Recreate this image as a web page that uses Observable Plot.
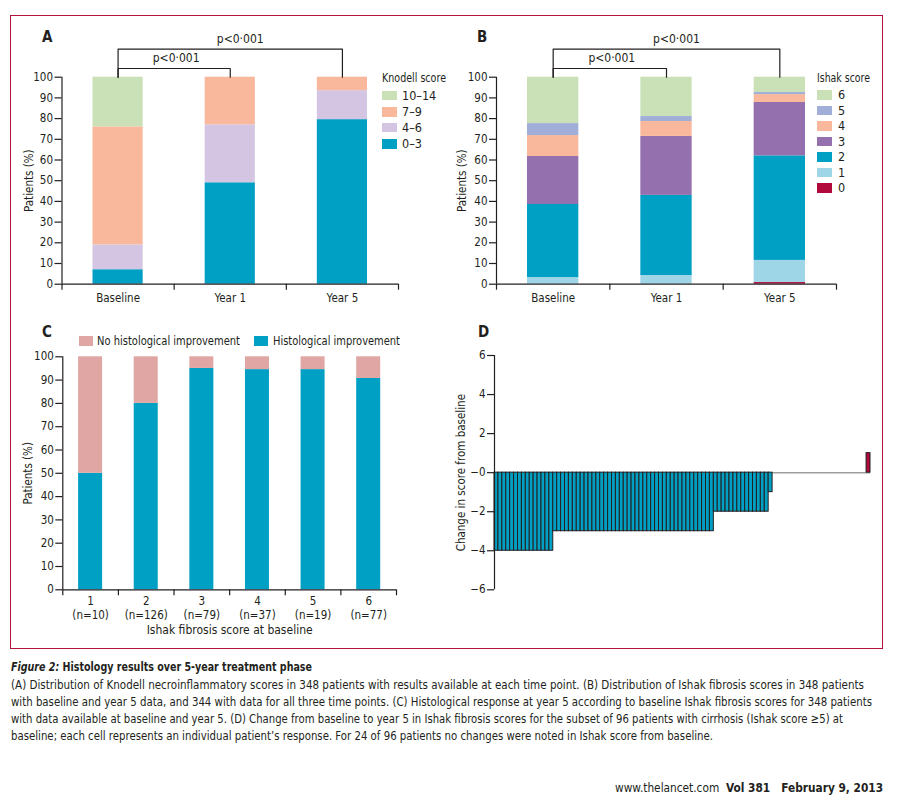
<!DOCTYPE html>
<html><head><meta charset="utf-8">
<script src="https://cdn.jsdelivr.net/npm/d3@7"></script>
<script src="https://cdn.jsdelivr.net/npm/@observablehq/plot@0.6"></script>
<style>
body{margin:0;background:#fff;}
#page{position:relative;width:897px;height:795px;overflow:hidden;font-family:"Liberation Sans Narrow","DejaVu Sans Condensed",sans-serif;color:#231f20;}
.abs{position:absolute;white-space:nowrap;line-height:1;}
#frame{position:absolute;left:10px;top:14.5px;width:872.5px;height:634.5px;border:1.5px solid #b5123e;box-sizing:border-box;}
.panel{position:absolute;}
.panel svg{overflow:visible;}
.sw{position:absolute;}
</style></head><body><div id="page"><div id="frame"></div></div>
<script>
// ---------- DATA ----------
const timepoints = ["Baseline", "Year 1", "Year 5"];
// Panel A: Knodell necroinflammatory score distribution (%), stacked bottom -> top
const knodellScores = ["0–3", "4–6", "7–9", "10–14"];
const knodellBaseline = [7, 12, 57, 24];
const knodellYear1 = [49, 28, 23, 0];
const knodellYear5 = [79.5, 14, 6.5, 0];
// Panel B: Ishak fibrosis score distribution (%), stacked bottom -> top
const ishakScores = ["0", "1", "2", "3", "4", "5", "6"];
const ishakBaseline = [0, 3.2, 35.3, 23.2, 10.1, 5.8, 22.4];
const ishakYear1 = [0, 4.2, 38.7, 28.5, 7.2, 2.4, 19.0];
const ishakYear5 = [0.8, 10.7, 50.5, 25.8, 3.8, 1.0, 7.4];
// comparisons shown with brackets
const comparisons = [["Baseline", "Year 1"], ["Baseline", "Year 5"]];
const pLabels = ["p<0·001", "p<0·001"];
// Panel C: histological response by baseline Ishak score
const responseGroups = ["No histological improvement", "Histological improvement"];
const baselineIshak = ["1", "2", "3", "4", "5", "6"];
const groupN = [10, 126, 79, 37, 19, 77];
const improvementPct = [50, 80, 95, 94.5, 94.5, 90.7];
const noImprovementPct = [50, 20, 5, 5.5, 5.5, 9.3];
// Panel D: change in Ishak score, baseline -> year 5, 96 cirrhotic patients
const scoreChanges = [
  -4,-4,-4,-4,-4,-4,-4,-4,-4,-4,-4,-4,-4,-4,-4,
  -3,-3,-3,-3,-3,-3,-3,-3,-3,-3,-3,-3,-3,-3,-3,-3,-3,-3,-3,-3,-3,
  -3,-3,-3,-3,-3,-3,-3,-3,-3,-3,-3,-3,-3,-3,-3,-3,-3,-3,-3,-3,
  -2,-2,-2,-2,-2,-2,-2,-2,-2,-2,-2,-2,-2,-2,
  -1,
  0,0,0,0,0,0,0,0,0,0,0,0,0,0,0,0,0,0,0,0,0,0,0,0,
  1
];
const dTicks = [-6, -4, -2, 0, 2, 4, 6];
const dTickLabels = ["−6", "−4", "−2", "−0", "2", "4", "6"];
const pctTicks = [0, 10, 20, 30, 40, 50, 60, 70, 80, 90, 100];

// ---------- STYLE ----------
const FONT = '"Liberation Sans Narrow","DejaVu Sans Condensed",sans-serif';
const INK = "#231f20";
const TEAL = "#009fc4", LAVENDER = "#d4c6e2", SALMON = "#f9b89c", GREEN = "#cae1b7",
      PERI = "#a1afd8", PURPLE = "#9570ae", LIGHTBLUE = "#9fd6e7", CRIMSON = "#b2093c", PINK = "#e0a6a3";
const knodellColors = [TEAL, LAVENDER, SALMON, GREEN];
const ishakColors = [CRIMSON, LIGHTBLUE, TEAL, PURPLE, SALMON, PERI, GREEN];

const page = document.getElementById("page");
function mount(el, left, top) {
  const d = document.createElement("div"); d.className = "panel";
  d.style.left = left + "px"; d.style.top = top + "px";
  d.appendChild(el); page.appendChild(d);
}
function label(str, x, y, opts = {}) {
  const d = document.createElement("div"); d.className = "abs";
  d.textContent = str; d.style.left = x + "px"; d.style.top = y + "px";
  d.style.transform = "translateY(-50%)";
  Object.assign(d.style, opts); page.appendChild(d); return d;
}
function fitLine(el, target) {
  const w = el.getBoundingClientRect().width;
  el.style.transformOrigin = "0 50%";
  el.style.transform = `translateY(-50%) scaleX(${target / w})`;
  return el;
}
function swatch(x, y, w, h, color) {
  const d = document.createElement("div"); d.className = "sw";
  Object.assign(d.style, {left: x + "px", top: y + "px", width: w + "px", height: h + "px", background: color});
  page.appendChild(d);
}
const baseStyle = {fontFamily: FONT, fontSize: "11.5px", color: INK, background: "transparent", overflow: "visible"};

function stackedPanel({series, scores, colors, width, height, margins, inset, ylabelDx}) {
  const [mt, mr, mb, ml] = margins;
  const data = [];
  timepoints.forEach((c, i) => scores.forEach((s, j) => data.push({cat: c, idx: i, idx2: i + 1, score: s, value: series[i][j]})));
  const levels = [104.2, 113.6];
  const marks = [
    Plot.rectY(data, Plot.stackY({x1: "idx", x2: "idx2", y: "value", fill: "score", insetLeft: inset, insetRight: inset})),
    Plot.ruleY([0], {stroke: INK, strokeWidth: 1.2}),
    Plot.ruleX([0], {y1: 0, y2: 100, stroke: INK, strokeWidth: 1.2}),
    Plot.axisY({ticks: pctTicks, tickSize: 7, tickPadding: 2, label: null, stroke: INK, strokeWidth: 1.2}),
    Plot.axisX({ticks: [0, 1, 2, 3], tickSize: 6, tickFormat: () => "", label: null, stroke: INK, strokeWidth: 1.2}),
    Plot.axisX({ticks: [0.5, 1.5, 2.5], tickSize: 0, tickPadding: 10, tickFormat: d => timepoints[d - 0.5], label: null}),
    Plot.text(["Patients (%)"], {frameAnchor: "left", textAnchor: "middle", rotate: -90, dx: ylabelDx, text: d => d})
  ];
  comparisons.forEach(([a, b], k) => {
    const i1 = timepoints.indexOf(a) + 0.5, i2 = timepoints.indexOf(b) + 0.5, L = levels[k];
    const pts = [{x: i1, y: 100}, {x: i1, y: L}, {x: i2, y: L}, {x: i2, y: 100}];
    marks.push(Plot.line(pts, {x: "x", y: "y", stroke: INK, strokeWidth: 1.2}));
    marks.push(Plot.text([pLabels[k]], {x: (i1 + i2) / 2, y: L + 5, text: d => d, fontSize: 12, dx: k === 0 ? 2 : 10}));
  });
  return Plot.plot({
    width, height, marginTop: mt, marginRight: mr, marginBottom: mb, marginLeft: ml,
    x: {type: "linear", domain: [0, 3]},
    y: {domain: [0, 100]},
    color: {domain: scores, range: colors},
    style: baseStyle,
    marks
  });
}

// ---------- PANEL A ----------
mount(stackedPanel({
  series: [knodellBaseline, knodellYear1, knodellYear5], scores: knodellScores, colors: knodellColors,
  width: 440, height: 310, margins: [76.7, 42, 26.3, 61.5], inset: 31, ylabelDx: -33
}), 0, 0);
label("A", 42, 37, {fontWeight: "bold", fontSize: "15px"});
fitLine(label("Knodell score", 382, 78, {fontSize: "12.5px"}), 64);
knodellScores.slice().reverse().forEach((s, k) => {
  const top = [90.7, 107.3, 122.7, 139][k];
  swatch(382, top, 15, 9.5, knodellColors[knodellScores.indexOf(s)]);
  label(s, 402, top + 5, {fontSize: "12.5px"});
});

// ---------- PANEL B ----------
mount(stackedPanel({
  series: [ishakBaseline, ishakYear1, ishakYear5], scores: ishakScores, colors: ishakColors,
  width: 457, height: 310, margins: [76.7, 61, 26.3, 56], inset: 31, ylabelDx: -34
}), 440, 0);
label("B", 477, 37, {fontWeight: "bold", fontSize: "15px"});
fitLine(label("Ishak score", 817, 78, {fontSize: "12.5px"}), 53);
ishakScores.slice().reverse().forEach((s, k) => {
  const top = 90 + k * 15.5;
  swatch(817, top, 15, 9.5, ishakColors[ishakScores.indexOf(s)]);
  label(s, 838, top + 5, {fontSize: "12.5px"});
});

// ---------- PANEL C ----------
{
  const data = [];
  baselineIshak.forEach((g, i) => {
    data.push({idx: i, idx2: i + 1, group: responseGroups[1], value: improvementPct[i]});
    data.push({idx: i, idx2: i + 1, group: responseGroups[0], value: noImprovementPct[i]});
  });
  const centers = baselineIshak.map((g, i) => i + 0.5);
  const plotC = Plot.plot({
    width: 440, height: 340, marginTop: 46.3, marginRight: 44, marginBottom: 60.7, marginLeft: 62.3,
    x: {type: "linear", domain: [0, 6]},
    y: {domain: [0, 100]},
    color: {domain: responseGroups, range: [PINK, TEAL]},
    style: baseStyle,
    marks: [
      Plot.rectY(data, Plot.stackY({x1: "idx", x2: "idx2", y: "value", fill: "group", insetLeft: 15.8, insetRight: 15.8})),
      Plot.ruleY([0], {stroke: INK, strokeWidth: 1.2}),
      Plot.ruleX([0], {y1: 0, y2: 100, stroke: INK, strokeWidth: 1.2}),
      Plot.axisY({ticks: pctTicks, tickSize: 7, tickPadding: 2, label: null, strokeWidth: 1.2}),
      Plot.axisX({ticks: [0, 1, 2, 3, 4, 5, 6], tickSize: 6, tickFormat: () => "", label: null, strokeWidth: 1.2}),
      Plot.axisX({ticks: centers, tickSize: 0, tickPadding: 7, tickFormat: d => baselineIshak[d - 0.5], label: null}),
      Plot.axisX({ticks: centers, tickSize: 0, tickPadding: 21, tickFormat: d => `(n=${groupN[d - 0.5]})`, label: null}),
      Plot.text(["Ishak fibrosis score at baseline"], {frameAnchor: "bottom", dy: 44, text: d => d, fontSize: 12}),
      Plot.text(["Patients (%)"], {frameAnchor: "left", textAnchor: "middle", rotate: -90, dx: -34, text: d => d})
    ]
  });
  mount(plotC, 0, 310);
  label("C", 42, 332, {fontWeight: "bold", fontSize: "15px"});
  swatch(79, 336, 14, 10, PINK);
  fitLine(label(responseGroups[0], 97.3, 341, {fontSize: "12.5px"}), 143);
  swatch(254, 336, 14, 10, TEAL);
  fitLine(label(responseGroups[1], 272.7, 341, {fontSize: "12.5px"}), 127);
}

// ---------- PANEL D ----------
{
  const cells = scoreChanges.map((v, i) => ({i, i2: i + 1, change: v, dir: v > 0 ? "increase" : "decrease"}));
  const plotD = Plot.plot({
    width: 457, height: 340, marginTop: 45, marginRight: 27, marginBottom: 60.7, marginLeft: 54,
    x: {type: "linear", domain: [0, scoreChanges.length], axis: null},
    y: {domain: [-6, 6]},
    color: {domain: ["decrease", "increase"], range: [TEAL, CRIMSON]},
    style: baseStyle,
    marks: [
      Plot.ruleY([0], {stroke: "#9d9d9d", strokeWidth: 1.5}),
      Plot.rect(cells.filter(d => d.change !== 0), {x1: "i", x2: "i2", y1: 0, y2: "change", fill: "dir", stroke: INK, strokeWidth: 1}),
      Plot.ruleX([0], {y1: -6, y2: 6, stroke: INK, strokeWidth: 1.2}),
      Plot.axisY({ticks: dTicks, tickSize: 7, tickPadding: 2, tickFormat: d => dTickLabels[dTicks.indexOf(d)], label: null, strokeWidth: 1.2}),
      Plot.text(["Change in score from baseline"], {frameAnchor: "left", textAnchor: "middle", rotate: -90, dx: -33, text: d => d})
    ]
  });
  mount(plotD, 440, 310);
  label("D", 478, 332, {fontWeight: "bold", fontSize: "15px"});
}

// ---------- CAPTION ----------
const capFont = {fontSize: "13px"};
const title = label("", 11, 666, capFont);
title.innerHTML = '<b><i>Figure 2:</i> Histology results over 5-year treatment phase</b>';
fitLine(title, 301);
const capLines = [
  "(A) Distribution of Knodell necroinflammatory scores in 348 patients with results available at each time point. (B) Distribution of Ishak fibrosis scores in 348 patients",
  "with baseline and year 5 data, and 344 with data for all three time points. (C) Histological response at year 5 according to baseline Ishak fibrosis scores for 348 patients",
  "with data available at baseline and year 5. (D) Change from baseline to year 5 in Ishak fibrosis scores for the subset of 96 patients with cirrhosis (Ishak score ≥5) at",
  "baseline; each cell represents an individual patient’s response. For 24 of 96 patients no changes were noted in Ishak score from baseline."
];
const capWidths = [853, 861, 832, 702];
const capY = [683.5, 700.5, 717.5, 734.5];
capLines.forEach((t, k) => fitLine(label(t, 11, capY[k], capFont), capWidths[k]));
const footer = label("", 615, 787.5, {fontSize: "12px"});
footer.innerHTML = 'www.thelancet.com&nbsp;&nbsp;<b>Vol 381&nbsp;&nbsp; February 9, 2013</b>';
fitLine(footer, 268);
</script></body></html>
